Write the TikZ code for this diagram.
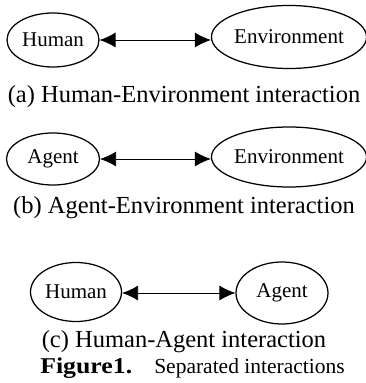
\documentclass[tikz,border=0pt]{standalone}
\usepackage{fontspec}
\setmainfont{Liberation Serif}
\usetikzlibrary{shapes.geometric,arrows.meta}
\tikzset{
  oval/.style={draw, ellipse, line width=1.25pt, inner sep=0pt, font=\fontsize{21}{24}\selectfont},
  link/.style={line width=0.8pt, {Latex[length=16pt,width=15pt]}-{Latex[length=16pt,width=15pt]}},
  captxt/.style={font=\fontsize{24.5}{28}\selectfont, inner sep=0pt},
  figcap/.style={font=\fontsize{21.5}{25}\selectfont, inner sep=0pt}
}
\begin{document}
\begin{tikzpicture}[x=1pt,y=1pt]
\useasboundingbox (0,0) rectangle (366,383);
% (a)
\node[oval, minimum width=92pt, minimum height=54pt] (h1) at (53,343) {Human};
\node[oval, minimum width=152pt, minimum height=63pt] (e1) at (289,346) {Environment};
\draw[link] (h1.east) -- (h1.east -| e1.west);
\node[captxt] (ca) at (184,286) {(a) Human-Environment interaction};
% (b)
\node[oval, minimum width=93pt, minimum height=52pt] (a2) at (53,224) {Agent};
\node[oval, minimum width=152pt, minimum height=60pt] (e2) at (289,226) {Environment};
\draw[link] (a2.east) -- (a2.east -| e2.west);
\node[captxt] (cb) at (184,175) {(b) Agent-Environment interaction};
% (c)
\node[oval, minimum width=91pt, minimum height=59pt] (h3) at (76,91) {Human};
\node[oval, minimum width=92pt, minimum height=62pt] (a3) at (282,90) {Agent};
\draw[link] (h3.east |- a3.west) -- (a3.west);
\node[captxt] (cc) at (184,41) {(c) Human-Agent interaction};
\node[figcap] (fig) at (192.5,15) {\scalebox{1.2}[1.05]{\textbf{Figure1.}}\hspace{22pt}Separated interactions};
\end{tikzpicture}
\end{document}
